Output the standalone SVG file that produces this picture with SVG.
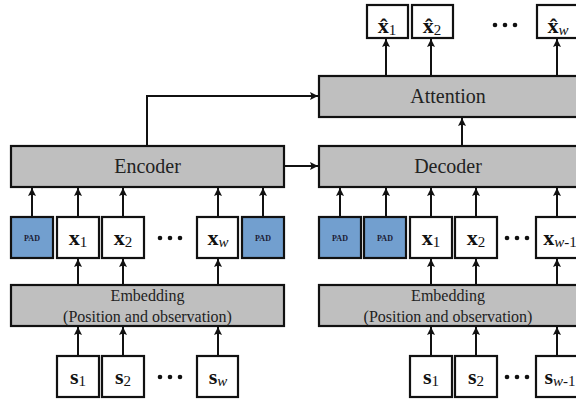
<svg xmlns="http://www.w3.org/2000/svg" width="576" height="401" viewBox="0 0 576 401" font-family="'Liberation Serif', 'Times New Roman', Times, serif">
<style>
.blk{fill:#bfbfbf;stroke:#111;stroke-width:2.2}
.box{fill:#fff;stroke:#111;stroke-width:2.2}
.pad{fill:#729fcf;stroke:#111;stroke-width:2.2}
text{font-family:'Liberation Serif','Times New Roman',Times,serif}
.lbl{font-size:20px;fill:#222;text-anchor:middle}
.emb{font-size:16px;fill:#222;text-anchor:middle}
.var{font-size:22px;fill:#111;text-anchor:middle}
.b{font-weight:bold}
.sub{font-size:15px;font-weight:normal}
.it{font-style:italic}
.padt{font-size:8px;font-weight:bold;fill:#1a1a33;text-anchor:middle}
.con line,.con path{stroke:#111;stroke-width:2;fill:none;marker-end:url(#ah)}
.dots{fill:#111}
</style>
<defs>
<marker id="ah" viewBox="0 0 10 10" refX="10" refY="5" markerWidth="4" markerHeight="4" orient="auto" markerUnits="strokeWidth">
<path d="M0,0 L10,5 L0,10 L2,5 z" fill="#111"/>
</marker>
</defs>

<g id="encoder"><rect class="blk" x="11" y="146" width="273" height="41"/><text class="lbl" x="147.5" y="173">Encoder</text></g>
<g id="decoder"><rect class="blk" x="319" y="146" width="270" height="41"/><text class="lbl" x="448" y="173">Decoder</text></g>
<g id="attention"><rect class="blk" x="319" y="76" width="270" height="41"/><text class="lbl" x="448" y="103">Attention</text></g>
<g id="emb-enc"><rect class="blk" x="11" y="285" width="273" height="41"/><text class="emb" x="147.5" y="301">Embedding</text><text class="emb" x="147.5" y="322">(Position and observation)</text></g>
<g id="emb-dec"><rect class="blk" x="319" y="285" width="270" height="41"/><text class="emb" x="448" y="301">Embedding</text><text class="emb" x="448" y="322">(Position and observation)</text></g>

<g id="xhat1"><rect class="box" x="367" y="5" width="41" height="33"/><text class="var" x="387" y="33"><tspan class="b">x̂</tspan><tspan class="sub" dy="2">1</tspan></text></g>
<g id="xhat2"><rect class="box" x="412" y="5" width="41" height="33"/><text class="var" x="432" y="33"><tspan class="b">x̂</tspan><tspan class="sub" dy="2">2</tspan></text></g>
<g id="xhatw"><rect class="box" x="537" y="5" width="41" height="33"/><text class="var" x="558" y="33"><tspan class="b">x̂</tspan><tspan class="sub it" dy="2">w</tspan></text></g>
<g id="dots-out" class="dots"><circle cx="495" cy="25" r="2.3"/><circle cx="505" cy="25" r="2.3"/><circle cx="515" cy="25" r="2.3"/></g>

<g id="enc-pad1"><rect class="pad" x="11" y="217" width="42" height="41"/><text class="padt" x="32" y="241">PAD</text></g>
<g id="enc-x1"><rect class="box" x="57" y="217" width="42" height="41"/><text class="var" x="78" y="245"><tspan class="b">x</tspan><tspan class="sub" dy="2">1</tspan></text></g>
<g id="enc-x2"><rect class="box" x="102" y="217" width="42" height="41"/><text class="var" x="123" y="245"><tspan class="b">x</tspan><tspan class="sub" dy="2">2</tspan></text></g>
<g id="enc-dots" class="dots"><circle cx="160" cy="238" r="2.3"/><circle cx="170" cy="238" r="2.3"/><circle cx="180" cy="238" r="2.3"/></g>
<g id="enc-xw"><rect class="box" x="197" y="217" width="41" height="41"/><text class="var" x="218" y="245"><tspan class="b">x</tspan><tspan class="sub it" dy="2">w</tspan></text></g>
<g id="enc-pad2"><rect class="pad" x="242" y="217" width="42" height="41"/><text class="padt" x="263" y="241">PAD</text></g>

<g id="dec-pad1"><rect class="pad" x="319" y="217" width="42" height="41"/><text class="padt" x="340" y="241">PAD</text></g>
<g id="dec-pad2"><rect class="pad" x="364" y="217" width="42" height="41"/><text class="padt" x="385" y="241">PAD</text></g>
<g id="dec-x1"><rect class="box" x="410" y="217" width="42" height="41"/><text class="var" x="431" y="245"><tspan class="b">x</tspan><tspan class="sub" dy="2">1</tspan></text></g>
<g id="dec-x2"><rect class="box" x="455" y="217" width="42" height="41"/><text class="var" x="476" y="245"><tspan class="b">x</tspan><tspan class="sub" dy="2">2</tspan></text></g>
<g id="dec-dots" class="dots"><circle cx="507" cy="238" r="2.3"/><circle cx="517" cy="238" r="2.3"/><circle cx="527" cy="238" r="2.3"/></g>
<g id="dec-xw1"><rect class="box" x="536" y="217" width="45" height="41"/><text class="var" x="560" y="245"><tspan class="b">x</tspan><tspan class="sub" dy="2"><tspan class="it">w</tspan>-1</tspan></text></g>

<g id="enc-s1"><rect class="box" x="57" y="356" width="42" height="41"/><text class="var" x="78" y="384"><tspan class="b">s</tspan><tspan class="sub" dy="2">1</tspan></text></g>
<g id="enc-s2"><rect class="box" x="102" y="356" width="42" height="41"/><text class="var" x="123" y="384"><tspan class="b">s</tspan><tspan class="sub" dy="2">2</tspan></text></g>
<g id="enc-sdots" class="dots"><circle cx="160" cy="377" r="2.3"/><circle cx="170" cy="377" r="2.3"/><circle cx="180" cy="377" r="2.3"/></g>
<g id="enc-sw"><rect class="box" x="197" y="356" width="41" height="41"/><text class="var" x="218" y="384"><tspan class="b">s</tspan><tspan class="sub it" dy="2">w</tspan></text></g>

<g id="dec-s1"><rect class="box" x="410" y="356" width="42" height="41"/><text class="var" x="431" y="384"><tspan class="b">s</tspan><tspan class="sub" dy="2">1</tspan></text></g>
<g id="dec-s2"><rect class="box" x="455" y="356" width="42" height="41"/><text class="var" x="476" y="384"><tspan class="b">s</tspan><tspan class="sub" dy="2">2</tspan></text></g>
<g id="dec-sdots" class="dots"><circle cx="507" cy="377" r="2.3"/><circle cx="517" cy="377" r="2.3"/><circle cx="527" cy="377" r="2.3"/></g>
<g id="dec-sw1"><rect class="box" x="536" y="356" width="45" height="41"/><text class="var" x="560" y="384"><tspan class="b">s</tspan><tspan class="sub" dy="2"><tspan class="it">w</tspan>-1</tspan></text></g>

<g id="connectors" class="con">
<line x1="386" y1="76" x2="386" y2="39"/>
<line x1="431" y1="76" x2="431" y2="39"/>
<line x1="557" y1="76" x2="557" y2="39"/>
<line x1="462" y1="146" x2="462" y2="118"/>
<path d="M147,146 V96 H318"/>
<line x1="284" y1="166" x2="318" y2="166"/>
<line x1="32" y1="217" x2="32" y2="188"/>
<line x1="78" y1="217" x2="78" y2="188"/>
<line x1="123" y1="217" x2="123" y2="188"/>
<line x1="218" y1="217" x2="218" y2="188"/>
<line x1="263" y1="217" x2="263" y2="188"/>
<line x1="340" y1="217" x2="340" y2="188"/>
<line x1="386" y1="217" x2="386" y2="188"/>
<line x1="431" y1="217" x2="431" y2="188"/>
<line x1="476" y1="217" x2="476" y2="188"/>
<line x1="557" y1="217" x2="557" y2="188"/>
<line x1="78" y1="285" x2="78" y2="259"/>
<line x1="123" y1="285" x2="123" y2="259"/>
<line x1="218" y1="285" x2="218" y2="259"/>
<line x1="431" y1="285" x2="431" y2="259"/>
<line x1="476" y1="285" x2="476" y2="259"/>
<line x1="557" y1="285" x2="557" y2="259"/>
<line x1="78" y1="356" x2="78" y2="327"/>
<line x1="123" y1="356" x2="123" y2="327"/>
<line x1="218" y1="356" x2="218" y2="327"/>
<line x1="431" y1="356" x2="431" y2="327"/>
<line x1="476" y1="356" x2="476" y2="327"/>
<line x1="557" y1="356" x2="557" y2="327"/>
</g>
</svg>
